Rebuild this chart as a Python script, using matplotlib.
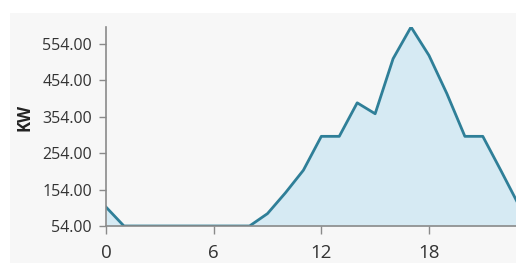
import matplotlib
matplotlib.use("Agg")
import matplotlib.pyplot as plt
from matplotlib.patches import Rectangle

hours = list(range(24))
kw = [106, 54, 54, 54, 54, 54, 54, 54, 54, 88, 145, 207, 300, 300, 392, 362,
      513, 600, 522, 417, 300, 300, 207, 112]
y_ticks = [54, 154, 254, 354, 454, 554]
x_ticks = [0, 6, 12, 18]

line_color = "#2f7f98"
fill_color = "#d6eaf3"
bg = "#f7f7f7"

fig = plt.figure(figsize=(5.16, 2.63), dpi=100, facecolor="white")
fig.patches.append(Rectangle((10 / 516, 0), 1, 1 - 13 / 263, transform=fig.transFigure,
                             facecolor=bg, edgecolor="none", zorder=-10))
ax = fig.add_axes([106 / 516, (263 - 226) / 263, (516 - 106) / 516, (226 - 27) / 263])
ax.set_facecolor(bg)
ax.patch.set_alpha(0)

ax.fill_between(hours, kw, 54, color=fill_color, lw=0)
ax.plot(hours, kw, color=line_color, lw=2)
ax.set_xlim(0, 22.85)
ax.set_ylim(54, 600)
ax.set_xticks(x_ticks)
ax.set_yticks(y_ticks)
ax.set_yticklabels([f"{v:.2f}" for v in y_ticks])
for s in ["top", "right"]:
    ax.spines[s].set_visible(False)
for s in ["left", "bottom"]:
    ax.spines[s].set_color("#8a8a8a")
    ax.spines[s].set_linewidth(1.2)
ax.tick_params(axis="both", colors="#8a8a8a", labelcolor="#333333",
               width=1, direction="out")
ax.tick_params(axis="y", labelsize=11.5, length=5, pad=5)
ax.tick_params(axis="x", labelsize=13.5, length=6, pad=7)
for lab in ax.get_xticklabels() + ax.get_yticklabels():
    lab.set_fontfamily("Open Sans")
ax.set_ylabel("KW", fontsize=12, fontweight="bold", color="#222222",
              fontfamily="Open Sans")
ax.yaxis.set_label_coords(-0.198, 0.548)
ax.yaxis.label.set_verticalalignment("center")

fig.savefig("out.png", dpi=100, facecolor="white")
